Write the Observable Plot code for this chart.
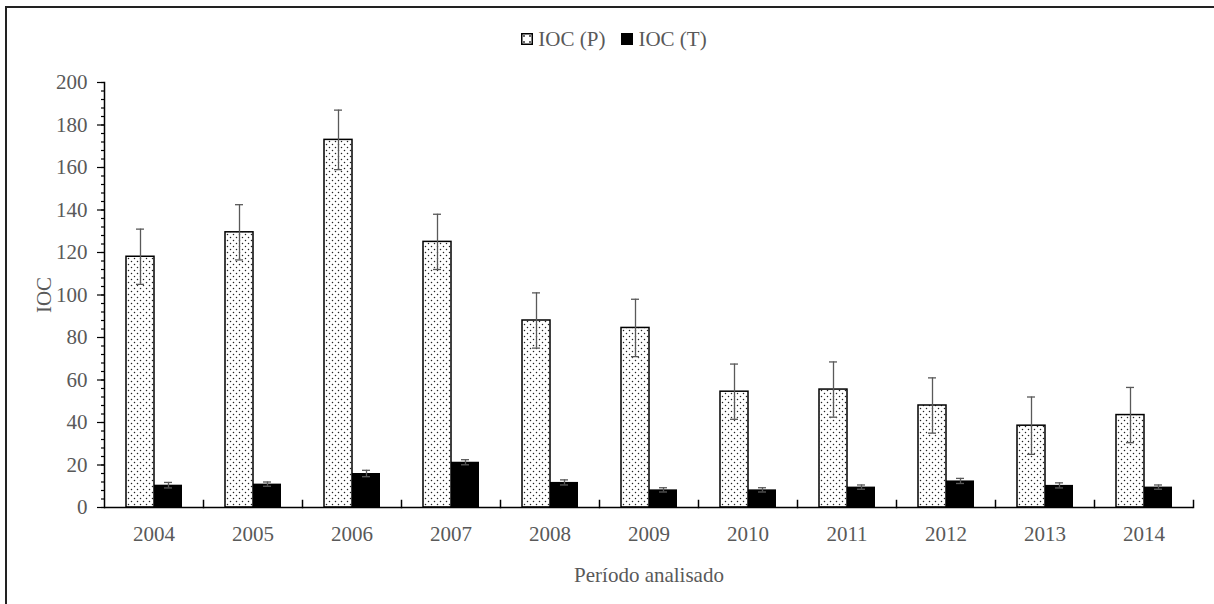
<!DOCTYPE html>
<html>
<head>
<meta charset="utf-8">
<script src="https://cdn.jsdelivr.net/npm/d3@7"></script>
<script src="https://cdn.jsdelivr.net/npm/@observablehq/plot@0.6"></script>
<style>
  html, body { margin: 0; padding: 0; background: #fff; }
  body { width: 1214px; height: 604px; position: relative; overflow: hidden; font-family: "Liberation Serif", "Tinos", "Nimbus Roman", "Nimbus Roman No9 L", "FreeSerif", "Noto Serif", "DejaVu Serif", "Times New Roman", Times, serif; }
  #border { position: absolute; left: 5px; top: 6px; width: 1207px; height: 640px; border-top: 2px solid #222; border-left: 2px solid #222; border-right: 1px solid #c8c8c8; pointer-events: none; }
  #legend { height: 62px; display: flex; justify-content: center; align-items: flex-start; box-sizing: border-box; font-size: 21px; color: #595959; padding-left: 14px; }
  #legend .item { display: flex; align-items: center; margin: 0 8px; margin-top: 27px; line-height: 24px; }
  #legend svg { margin-right: 5px; }
  #chart svg { display: block; }
</style>
</head>
<body>
<div id="legend"></div>
<div id="chart"></div>
<div id="border"></div>
<script>
const years = ["2004","2005","2006","2007","2008","2009","2010","2011","2012","2013","2014"];
const iocP  = [118, 129.5, 173, 125, 88, 84.5, 54.5, 55.5, 48, 38.5, 43.5];
const errP  = [13, 13, 14, 13, 13, 13.5, 13, 13, 13, 13.5, 13];
const iocT  = [10.5, 11, 16, 21.3, 11.8, 8.3, 8.3, 9.6, 12.5, 10.4, 9.6];
const errT  = [1.3, 1, 1.5, 1.2, 1.2, 1, 1, 1, 1.2, 1.2, 1];
const seriesKeys = ["P", "T"];
const seriesLabels = ["IOC (P)", "IOC (T)"];
const yTicks = [0, 20, 40, 60, 80, 100, 120, 140, 160, 180, 200];

const rows = [];
years.forEach((y, i) => {
  rows.push({year: y, series: "P", value: iocP[i], err: errP[i]});
  rows.push({year: y, series: "T", value: iocT[i], err: errT[i]});
});

const gray = "#595959";
const plotH = 542, mTop = 20, mBottom = 97;
const fontStack = "'Liberation Serif', Tinos, 'Nimbus Roman', 'Nimbus Roman No9 L', FreeSerif, 'Noto Serif', 'DejaVu Serif', 'Times New Roman', Times, serif";

const chart = Plot.plot({
  width: 1214,
  height: plotH,
  marginLeft: 100,
  marginRight: 17,
  marginTop: mTop,
  marginBottom: mBottom,
  style: {fontFamily: fontStack, fontSize: "21px", color: gray, background: "transparent"},
  fx: {domain: years, padding: 0},
  x: {domain: seriesKeys, paddingInner: 0, paddingOuter: 0.75, axis: null},
  y: {domain: [0, 200]},
  marks: [
    Plot.barY(rows.filter(d => d.series === "P"), {fx: "year", x: "series", y: "value", fill: "url(#dots)", stroke: "black", strokeWidth: 1.5}),
    Plot.barY(rows.filter(d => d.series === "T"), {fx: "year", x: "series", y: "value", fill: "black"}),
    Plot.ruleX(rows, {fx: "year", x: "series", y1: d => d.value - d.err, y2: d => d.value + d.err, stroke: gray, strokeWidth: 1.3}),
    Plot.tickY(rows, {fx: "year", x: "series", y: d => d.value + d.err, stroke: gray, strokeWidth: 1.3, insetLeft: 10, insetRight: 10}),
    Plot.tickY(rows, {fx: "year", x: "series", y: d => d.value - d.err, stroke: gray, strokeWidth: 1.3, insetLeft: 10, insetRight: 10}),
    Plot.ruleY([0], {stroke: "black", strokeWidth: 1.5}),
    Plot.frame({anchor: "right", stroke: "black", strokeWidth: 1.5, insetTop: plotH - mTop - mBottom - 7}),
    Plot.frame({anchor: "left", stroke: "black", strokeWidth: 1.5, facetAnchor: "left"}),
    Plot.axisY({ticks: d3.range(0, 201, 4), tickSize: 3, text: null, stroke: "black", strokeWidth: 1.2, label: null}),
    Plot.axisY({ticks: yTicks, tickSize: 7, tickPadding: 10, stroke: "black", strokeWidth: 1.2, fill: gray, label: "IOC", labelAnchor: "center", labelArrow: "none", labelOffset: 68}),
    Plot.axisFx({anchor: "bottom", tickSize: 0, tickPadding: 19, fill: gray, label: "Período analisado", labelAnchor: "center", labelArrow: "none", labelOffset: 74})
  ]
});

const svg = d3.select(chart.tagName === "svg" ? chart : chart.querySelector("svg"));
const pat = svg.insert("defs", ":first-child")
  .append("pattern").attr("id", "dots").attr("patternUnits", "userSpaceOnUse")
  .attr("width", 6).attr("height", 6);
pat.append("rect").attr("width", 6).attr("height", 6).attr("fill", "white");
pat.append("circle").attr("cx", 1.5).attr("cy", 1.5).attr("r", 0.75).attr("fill", "#222");
pat.append("circle").attr("cx", 4.5).attr("cy", 4.5).attr("r", 0.75).attr("fill", "#222");

document.getElementById("chart").appendChild(chart);

// legend
const legend = d3.select("#legend");
seriesKeys.forEach((k, i) => {
  const item = legend.append("div").attr("class", "item");
  const sw = item.append("svg").attr("width", 12).attr("height", 12);
  if (k === "P") {
    const p = sw.append("defs").append("pattern").attr("id", "dotsL").attr("patternUnits", "userSpaceOnUse").attr("width", 6).attr("height", 6);
    p.append("rect").attr("width", 6).attr("height", 6).attr("fill", "white");
    p.append("circle").attr("cx", 3).attr("cy", 3).attr("r", 0.9).attr("fill", "#222");
    sw.append("rect").attr("x", 0.75).attr("y", 0.75).attr("width", 10.5).attr("height", 10.5).attr("fill", "url(#dotsL)").attr("stroke", "black").attr("stroke-width", 1.5);
  } else {
    sw.append("rect").attr("width", 12).attr("height", 12).attr("fill", "black");
  }
  item.append("span").text(seriesLabels[i]);
});
</script>
</body>
</html>
